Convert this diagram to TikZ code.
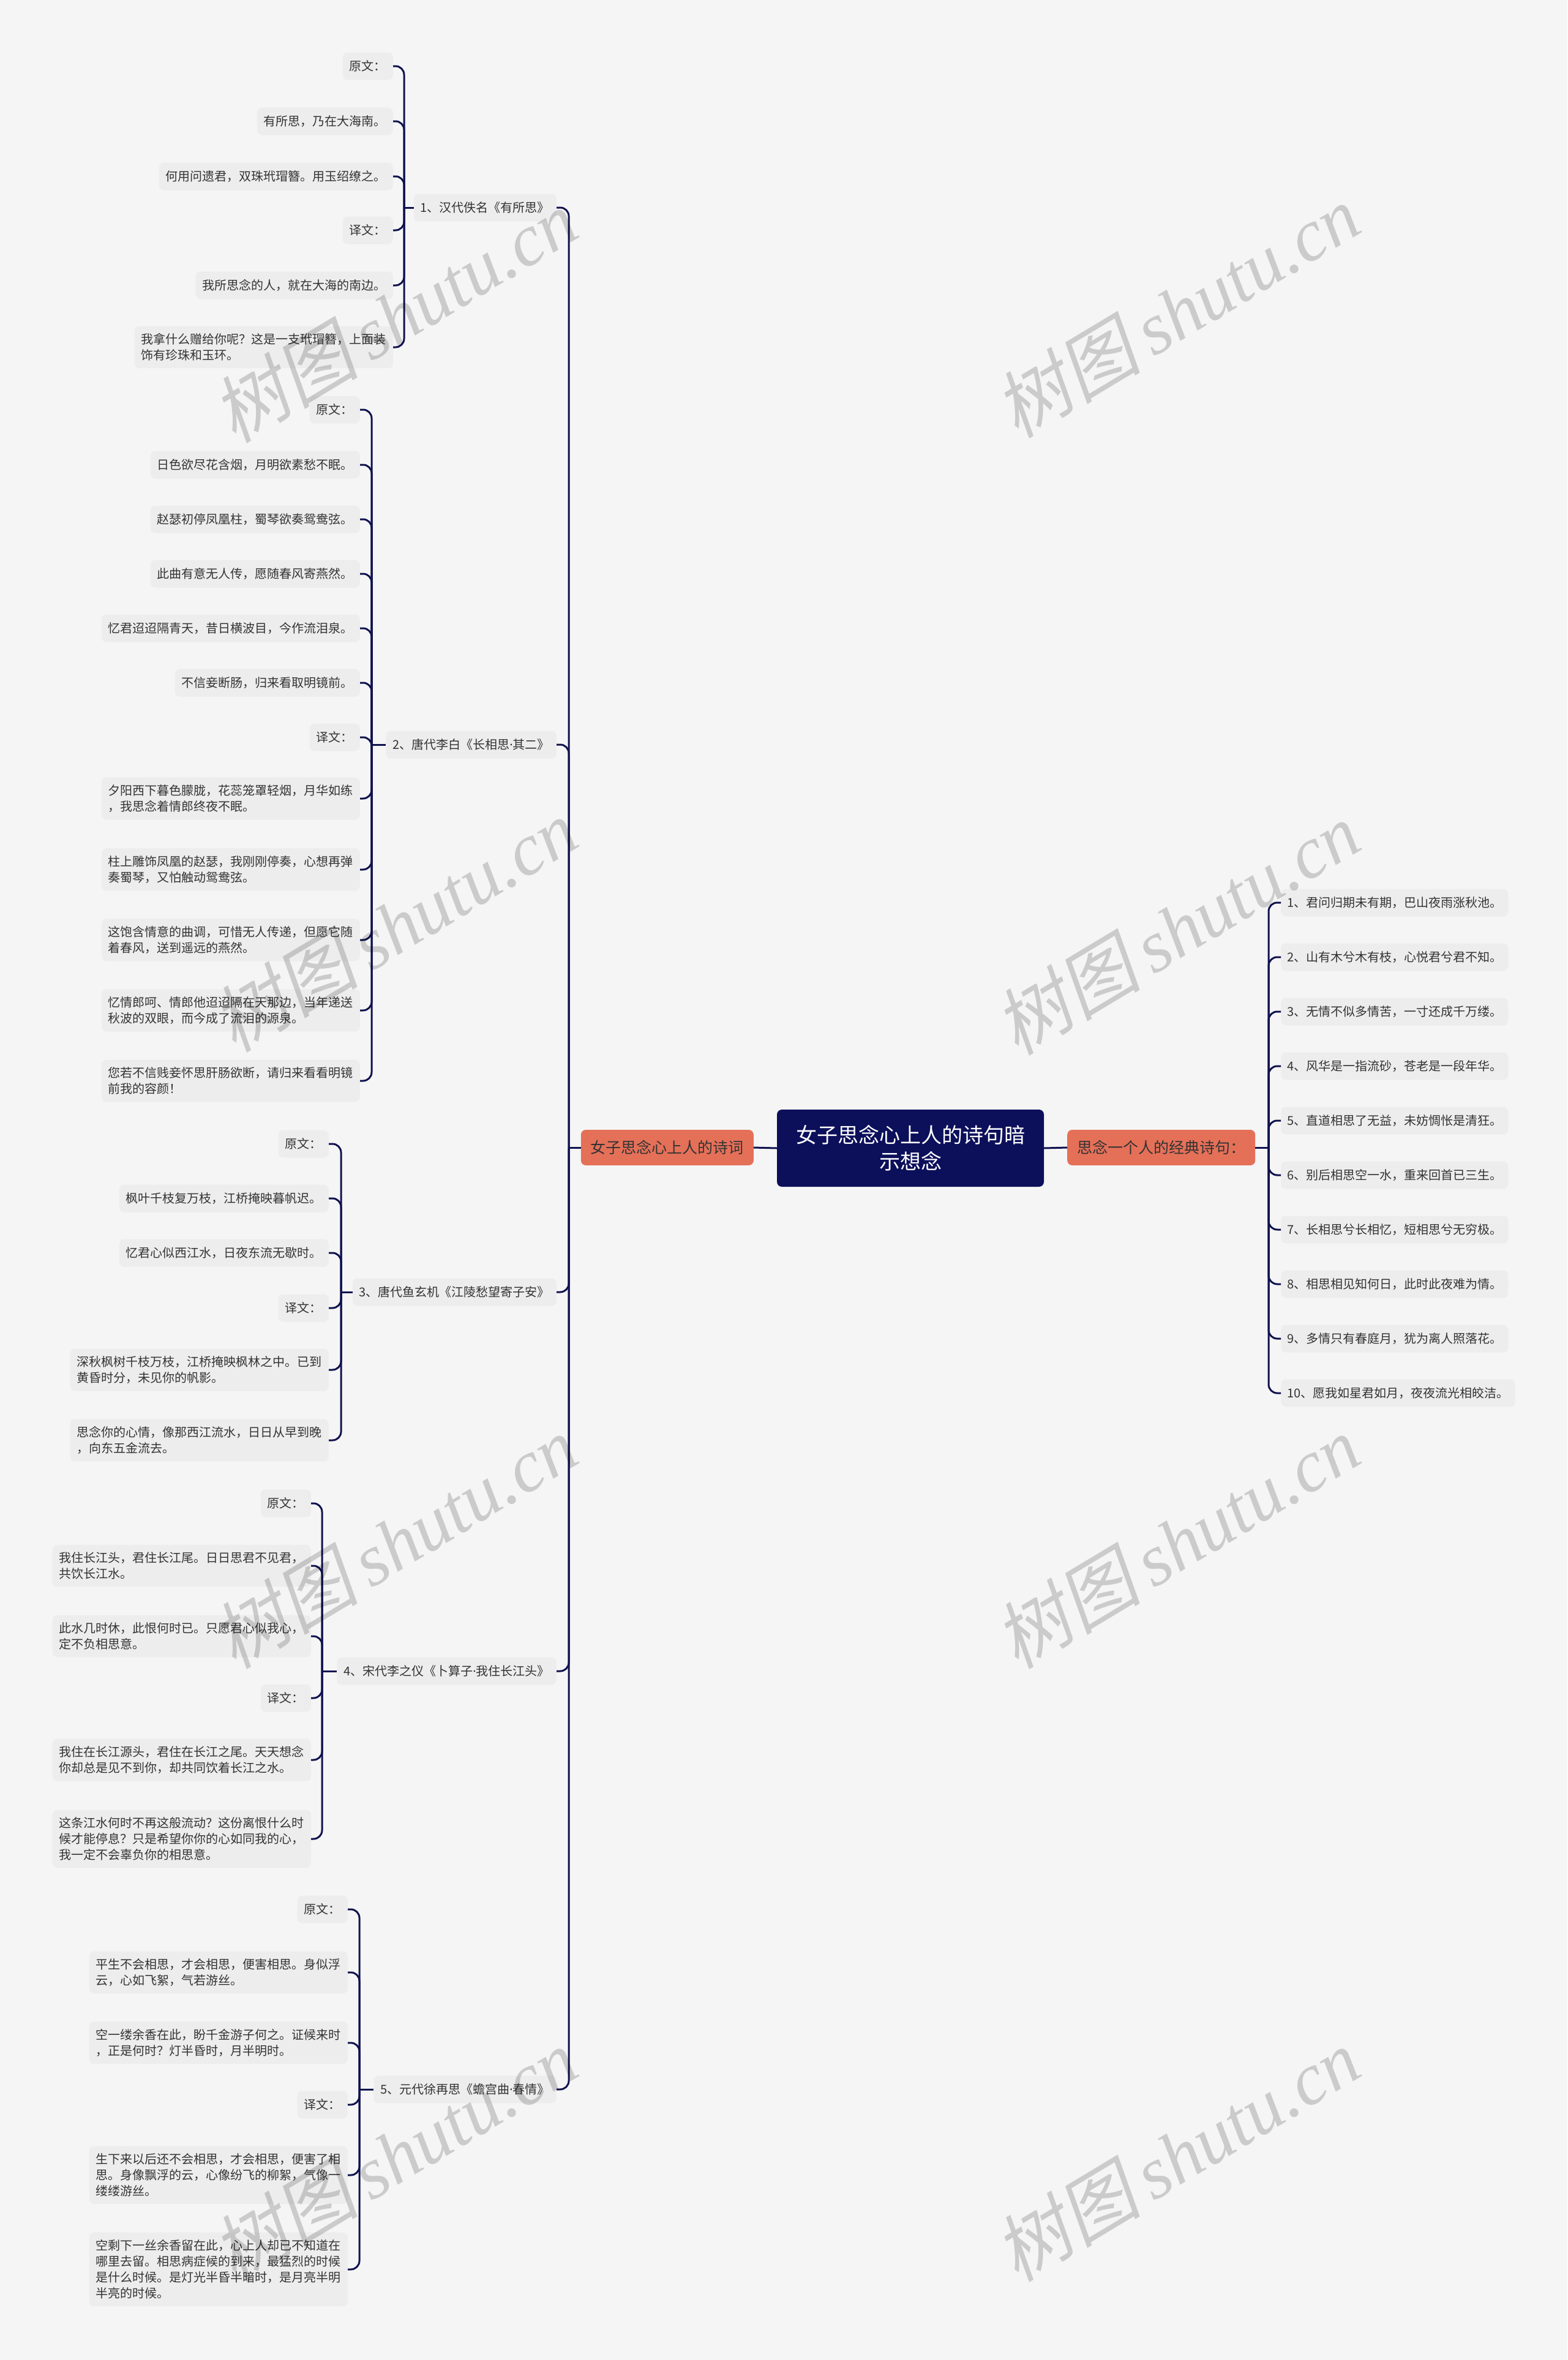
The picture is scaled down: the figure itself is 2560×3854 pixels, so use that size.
\documentclass[tikz,border=0pt]{standalone}
\usepackage{fontspec}
\newfontfamily\cjk{Noto Sans CJK SC}
\newfontfamily\cjkwm[FakeSlant=0.2]{Noto Sans CJK SC}
\newfontfamily\latinf{Noto Sans}
\newfontfamily\wmserif{Liberation Serif}
\newcommand{\mdot}{{\latinf ·}}
\definecolor{bg}{HTML}{F5F5F5}
\definecolor{leaffill}{HTML}{EDEDED}
\definecolor{txt}{HTML}{333333}
\definecolor{linec}{HTML}{10124F}
\definecolor{navy}{HTML}{0C0F5A}
\definecolor{orng}{HTML}{E57058}
\tikzset{
  leaf/.style={fill=leaffill, rounded corners=8pt, inner xsep=11pt, inner ysep=12pt,
    font=\cjk\fontsize{20}{26}\selectfont, text=txt, align=left, minimum height=45pt},
  titlebox/.style={leaf, anchor=east},
  lleaf/.style={leaf, anchor=east},
  rleaf/.style={leaf, anchor=west, inner xsep=10pt},
  conn/.style={draw=linec, line width=3pt, rounded corners=14pt},
  mainbox/.style={fill=navy, text=white, rounded corners=8pt, align=center,
    font=\cjk\fontsize{34}{43}\selectfont, minimum width=436pt, minimum height=126pt},
  orbox/.style={fill=orng, text=txt, rounded corners=8pt, inner xsep=16pt,
    font=\cjk\fontsize{25}{30}\selectfont, minimum height=58pt},
  wm/.style={text=black, text opacity=0.17, rotate=31, font=\fontsize{120}{120}\selectfont}
}
\newcommand{\wmtext}{{\cjkwm 树图}\,{\wmserif\itshape shutu.cn}}
\begin{document}
\begin{tikzpicture}[x=1pt,y=-1pt]
\fill[bg] (0,0) rectangle (2560,3854);
\useasboundingbox (0,0) rectangle (2560,3854);

% central and level 1
\node[mainbox] (C) at (1487,1875) {女子思念心上人的诗句暗\\示想念};
\node[orbox, anchor=east] (L) at (1231,1874) {女子思念心上人的诗词};
\node[orbox, anchor=west] (R) at (1743,1874) {思念一个人的经典诗句：};
\draw[conn] (C.west) -- (L.east);
\draw[conn] (C.east) -- (R.west);

% right items
\node[rleaf] (r1) at (2092,1474) {1、君问归期未有期，巴山夜雨涨秋池。};
\node[rleaf] (r2) at (2092,1563) {2、山有木兮木有枝，心悦君兮君不知。};
\node[rleaf] (r3) at (2092,1652) {3、无情不似多情苦，一寸还成千万缕。};
\node[rleaf] (r4) at (2092,1741) {4、风华是一指流砂，苍老是一段年华。};
\node[rleaf] (r5) at (2092,1830) {5、直道相思了无益，未妨惆怅是清狂。};
\node[rleaf] (r6) at (2092,1919) {6、别后相思空一水，重来回首已三生。};
\node[rleaf] (r7) at (2092,2008) {7、长相思兮长相忆，短相思兮无穷极。};
\node[rleaf] (r8) at (2092,2097) {8、相思相见知何日，此时此夜难为情。};
\node[rleaf] (r9) at (2092,2186) {9、多情只有春庭月，犹为离人照落花。};
\node[rleaf] (r10) at (2092,2275) {10、愿我如星君如月，夜夜流光相皎洁。};
\coordinate (sR) at (2072,1874);
\draw[conn] (R.east) -- (sR);
\foreach \n in {r1,r2,r3,r4,r5,r6,r7,r8,r9,r10} \draw[conn] (sR) |- (\n.west);

% titles
\node[titlebox] (t1) at (909,339) {1、汉代佚名《有所思》};
\node[titlebox] (t2) at (909,1216) {2、唐代李白《长相思\mdot 其二》};
\node[titlebox] (t3) at (909,2110) {3、唐代鱼玄机《江陵愁望寄子安》};
\node[titlebox] (t4) at (909,2729) {4、宋代李之仪《卜算子\mdot 我住长江头》};
\node[titlebox] (t5) at (909,3412) {5、元代徐再思《蟾宫曲\mdot 春情》};
\coordinate (sL) at (929,1874);
\draw[conn] (sL) -- (L.west);
\foreach \n in {t1,t2,t3,t4,t5} \draw[conn] (sL) |- (\n.east);

% group 1
\node[lleaf] (a1) at (642,108) {原文：};
\node[lleaf] (a2) at (642,198) {有所思，乃在大海南。};
\node[lleaf] (a3) at (642,288) {何用问遗君，双珠玳瑁簪。用玉绍缭之。};
\node[lleaf] (a4) at (642,376) {译文：};
\node[lleaf] (a5) at (642,466) {我所思念的人，就在大海的南边。};
\node[lleaf] (a6) at (642,567) {我拿什么赠给你呢？这是一支玳瑁簪，上面装\\饰有珍珠和玉环。};
\coordinate (s1) at (660,339);
\draw[conn] (s1) -- (t1.west);
\foreach \n in {a1,a2,a3,a4,a5,a6} \draw[conn] (s1) |- (\n.east);

% group 2
\node[lleaf] (b1) at (588,669) {原文：};
\node[lleaf] (b2) at (588,759) {日色欲尽花含烟，月明欲素愁不眠。};
\node[lleaf] (b3) at (588,848) {赵瑟初停凤凰柱，蜀琴欲奏鸳鸯弦。};
\node[lleaf] (b4) at (588,937) {此曲有意无人传，愿随春风寄燕然。};
\node[lleaf] (b5) at (588,1026) {忆君迢迢隔青天，昔日横波目，今作流泪泉。};
\node[lleaf] (b6) at (588,1115) {不信妾断肠，归来看取明镜前。};
\node[lleaf] (b7) at (588,1204) {译文：};
\node[lleaf] (b8) at (588,1304) {夕阳西下暮色朦胧，花蕊笼罩轻烟，月华如练\\，我思念着情郎终夜不眠。};
\node[lleaf] (b9) at (588,1420) {柱上雕饰凤凰的赵瑟，我刚刚停奏，心想再弹\\奏蜀琴，又怕触动鸳鸯弦。};
\node[lleaf] (b10) at (588,1535) {这饱含情意的曲调，可惜无人传递，但愿它随\\着春风，送到遥远的燕然。};
\node[lleaf] (b11) at (588,1650) {忆情郎呵、情郎他迢迢隔在天那边，当年递送\\秋波的双眼，而今成了流泪的源泉。};
\node[lleaf] (b12) at (588,1765) {您若不信贱妾怀思肝肠欲断，请归来看看明镜\\前我的容颜！};
\coordinate (s2) at (607,1216);
\draw[conn] (s2) -- (t2.west);
\foreach \n in {b1,b2,b3,b4,b5,b6,b7,b8,b9,b10,b11,b12} \draw[conn] (s2) |- (\n.east);

% group 3
\node[lleaf] (c1) at (537,1868) {原文：};
\node[lleaf] (c2) at (537,1957) {枫叶千枝复万枝，江桥掩映暮帆迟。};
\node[lleaf] (c3) at (537,2046) {忆君心似西江水，日夜东流无歇时。};
\node[lleaf] (c4) at (537,2136) {译文：};
\node[lleaf] (c5) at (537,2237) {深秋枫树千枝万枝，江桥掩映枫林之中。已到\\黄昏时分，未见你的帆影。};
\node[lleaf] (c6) at (537,2352) {思念你的心情，像那西江流水，日日从早到晚\\，向东五金流去。};
\coordinate (s3) at (557,2110);
\draw[conn] (s3) -- (t3.west);
\foreach \n in {c1,c2,c3,c4,c5,c6} \draw[conn] (s3) |- (\n.east);

% group 4
\node[lleaf] (d1) at (508,2455) {原文：};
\node[lleaf] (d2) at (508,2557) {我住长江头，君住长江尾。日日思君不见君，\\共饮长江水。};
\node[lleaf] (d3) at (508,2672) {此水几时休，此恨何时已。只愿君心似我心，\\定不负相思意。};
\node[lleaf] (d4) at (508,2773) {译文：};
\node[lleaf] (d5) at (508,2874) {我住在长江源头，君住在长江之尾。天天想念\\你却总是见不到你，却共同饮着长江之水。};
\node[lleaf] (d6) at (508,3003) {这条江水何时不再这般流动？这份离恨什么时\\候才能停息？只是希望你你的心如同我的心，\\我一定不会辜负你的相思意。};
\coordinate (s4) at (526,2729);
\draw[conn] (s4) -- (t4.west);
\foreach \n in {d1,d2,d3,d4,d5,d6} \draw[conn] (s4) |- (\n.east);

% group 5
\node[lleaf] (e1) at (568,3118) {原文：};
\node[lleaf] (e2) at (568,3221) {平生不会相思，才会相思，便害相思。身似浮\\云，心如飞絮，气若游丝。};
\node[lleaf] (e3) at (568,3336) {空一缕余香在此，盼千金游子何之。证候来时\\，正是何时？灯半昏时，月半明时。};
\node[lleaf] (e4) at (568,3437) {译文：};
\node[lleaf] (e5) at (568,3552) {生下来以后还不会相思，才会相思，便害了相\\思。身像飘浮的云，心像纷飞的柳絮，气像一\\缕缕游丝。};
\node[lleaf] (e6) at (568,3706) {空剩下一丝余香留在此，心上人却已不知道在\\哪里去留。相思病症候的到来，最猛烈的时候\\是什么时候。是灯光半昏半暗时，是月亮半明\\半亮的时候。};
\coordinate (s5) at (587,3412);
\draw[conn] (s5) -- (t5.west);
\foreach \n in {e1,e2,e3,e4,e5,e6} \draw[conn] (s5) |- (\n.east);

% watermarks
\node[wm] (w1) at (644,516) {\wmtext};
\node[wm] (w2) at (1922,508) {\wmtext};
\node[wm] (w3) at (644,1511) {\wmtext};
\node[wm] (w4) at (1922,1516) {\wmtext};
\node[wm] (w5) at (644,2518) {\wmtext};
\node[wm] (w6) at (1922,2518) {\wmtext};
\node[wm] (w7) at (644,3519) {\wmtext};
\node[wm] (w8) at (1922,3519) {\wmtext};
\end{tikzpicture}
\end{document}
